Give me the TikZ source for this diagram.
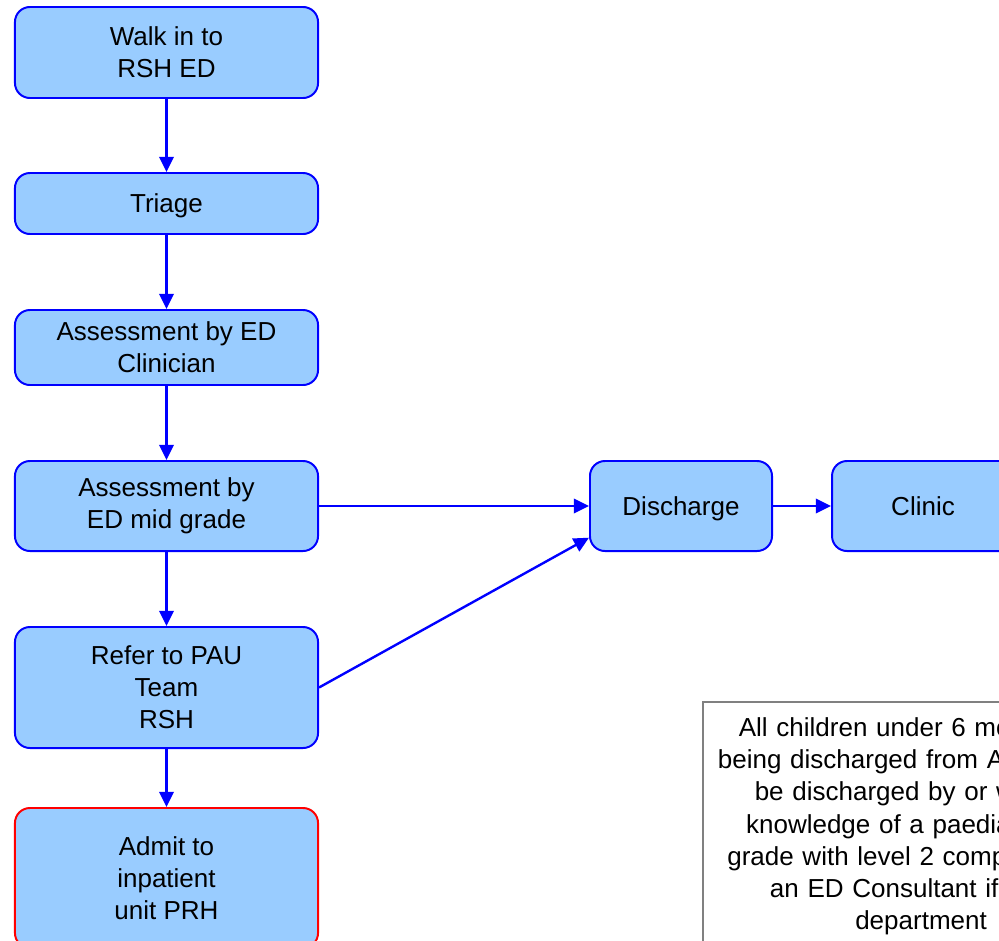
\documentclass[tikz,border=0pt]{standalone}
\usepackage{fontspec}
\setmainfont{Liberation Sans}
\usetikzlibrary{arrows.meta,positioning}

\definecolor{flowblue}{HTML}{0000FF}
\definecolor{flowfill}{HTML}{99CCFF}
\definecolor{flowred}{HTML}{FF0000}
\definecolor{notegray}{HTML}{808080}

\def\colx{166.5}
\def\boxwidth{7.575cm}

\begin{document}
\begin{tikzpicture}[x=0.025cm,y=-0.025cm,->,>={Triangle[length=0.38cm,width=0.36cm]},
    line width=1.7pt,draw=flowblue,node distance=1.45cm,
    every node/.style={font=\fontsize{18.5pt}{22.8pt}\selectfont}]
    \tikzstyle{step box}=[rectangle,rounded corners=0.375cm,draw=flowblue,fill=flowfill,
        line width=1.4pt,align=center,inner sep=2pt]
    \tikzstyle{left box}=[step box,minimum width=\boxwidth]
    \tikzstyle{end box}=[left box,draw=flowred]
    \tikzstyle{side box}=[step box,minimum width=4.55cm,minimum height=2.25cm,text depth=0pt]
    \tikzstyle{note}=[rectangle,draw=notegray,fill=white,line width=1.4pt,align=center,
        text width=10.4cm,inner xsep=0.25cm,inner ysep=0.4cm]

    \useasboundingbox (0,0) rectangle (999,940);
    \clip (0,0) rectangle (999,940);

    % Draw the left column
    \node[left box,minimum height=2.275cm] (walk) at (\colx,52.5) {Walk in to\\RSH ED};
    \node[left box,minimum height=1.525cm,text depth=0pt] (triage) at (\colx,203.5) {Triage};
    \node[left box,minimum height=1.875cm] (clinician) at (\colx,347.5) {Assessment by ED\\Clinician};
    \node[left box,minimum height=2.25cm] (midgrade) at (\colx,506) {Assessment by\\ED mid grade};
    \node[left box,minimum height=3.025cm] (refer) at (\colx,687.5) {Refer to PAU\\Team\\RSH};
    \node[end box,minimum height=3.5cm] (admit) at (\colx,878) {Admit to\\inpatient\\unit PRH};

    % Draw the discharge route
    \node[side box] (discharge) at (681,506) {Discharge};
    \node[side box,right=of discharge] (clinic) {Clinic};

    % Connect the left column top to bottom
    \foreach \source/\dest in {walk/triage,triage/clinician,clinician/midgrade,midgrade/refer,refer/admit}
        \draw (\source) -- (\dest);

    % Connect to the discharge route
    \draw (midgrade) -- (discharge);
    \draw (refer.east) -- (discharge.199);
    \draw (discharge) -- (clinic);

    % Note box
    \node[note,anchor=north west] (rule) at (702,701)
        {All children under 6 months old\\being discharged from A\&E should\\be discharged by or with the\\knowledge of a paediatric mid\\grade with level 2 competency or\\an ED Consultant if in the\\department};
\end{tikzpicture}
\end{document}
